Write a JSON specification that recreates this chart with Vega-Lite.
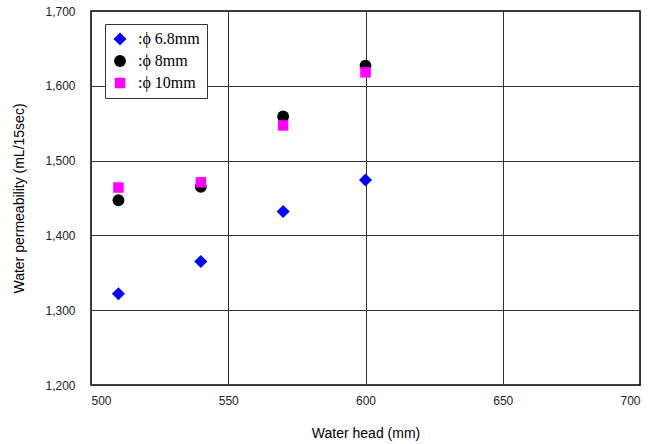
{
  "$schema": "https://vega.github.io/schema/vega-lite/v6.json",
  "width": 549,
  "height": 374,
  "autosize": "none",
  "padding": {"left": 91, "top": 11, "right": 12, "bottom": 59},
  "background": "white",
  "config": {
    "view": {"stroke": "black", "strokeWidth": 1.5},
    "axis": {"domain": false, "gridColor": "#333333", "gridOpacity": 1, "gridWidth": 1, "ticks": false,
      "labelFont": "Liberation Sans Narrow, Liberation Sans", "labelFontSize": 12, "labelColor": "#222",
      "titleFont": "Liberation Sans", "titleFontSize": 14, "titleFontWeight": "normal", "titleColor": "black"}
  },
  "data": {"values": [
    {"head": 510, "perm": 1322, "series": "6.8"},
    {"head": 540, "perm": 1365, "series": "6.8"},
    {"head": 570, "perm": 1432, "series": "6.8"},
    {"head": 600, "perm": 1474, "series": "6.8"},
    {"head": 510, "perm": 1447, "series": "8"},
    {"head": 540, "perm": 1465, "series": "8"},
    {"head": 570, "perm": 1559, "series": "8"},
    {"head": 600, "perm": 1627, "series": "8"},
    {"head": 510, "perm": 1464, "series": "10"},
    {"head": 540, "perm": 1471, "series": "10"},
    {"head": 570, "perm": 1547, "series": "10"},
    {"head": 600, "perm": 1618, "series": "10"}
  ]},
  "mark": {"type": "point", "filled": true, "opacity": 1},
  "encoding": {
    "x": {"field": "head", "type": "quantitative", "scale": {"domain": [500, 700], "nice": false, "zero": false},
      "axis": {"values": [500, 550, 600, 650, 700], "title": "Water head (mm)", "labelPadding": 10, "titlePadding": 20}},
    "y": {"field": "perm", "type": "quantitative", "scale": {"domain": [1200, 1700], "nice": false, "zero": false},
      "axis": {"values": [1200, 1300, 1400, 1500, 1600, 1700], "format": ",d", "title": "Water permeability (mL/15sec)", "labelPadding": 16, "titlePadding": 18}},
    "color": {"field": "series", "type": "nominal",
      "scale": {"domain": ["6.8", "8", "10"], "range": ["#0000ff", "#000000", "#ff00ff"]},
      "legend": {"orient": "none", "legendX": 14, "legendY": 13, "title": null,
        "labelExpr": "':ϕ ' + datum.label + 'mm'",
        "labelFont": "Liberation Serif", "labelFontSize": 16, "labelColor": "black",
        "strokeColor": "#333", "fillColor": "white", "padding": 7, "rowPadding": 6, "symbolSize": 120, "symbolStrokeWidth": 0, "labelOffset": 10}},
    "shape": {"field": "series", "type": "nominal",
      "scale": {"domain": ["6.8", "8", "10"], "range": ["diamond", "circle", "square"]}},
    "size": {"field": "series", "type": "nominal",
      "scale": {"domain": ["6.8", "8", "10"], "range": [170, 110, 125]}, "legend": null}
  }
}
